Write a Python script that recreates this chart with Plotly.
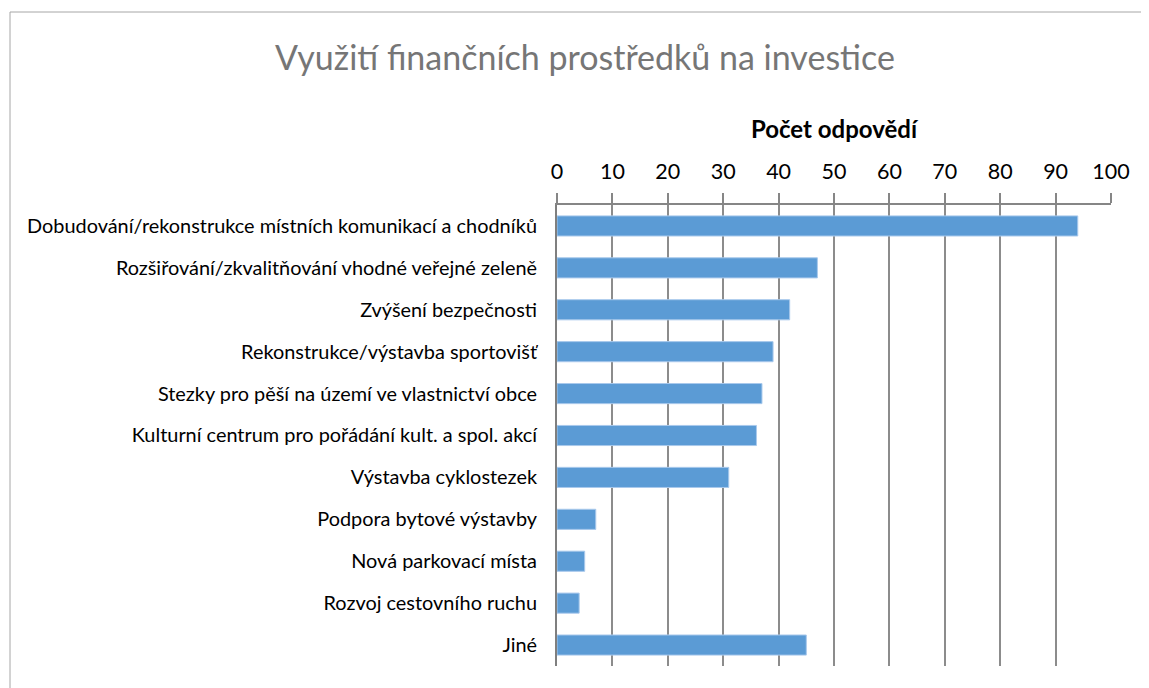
import plotly.graph_objects as go

categories = [
    "Dobudování/rekonstrukce místních komunikací a chodníků",
    "Rozšiřování/zkvalitňování vhodné veřejné zeleně",
    "Zvýšení bezpečnosti",
    "Rekonstrukce/výstavba sportovišť",
    "Stezky pro pěší na území ve vlastnictví obce",
    "Kulturní centrum pro pořádání kult. a spol. akcí",
    "Výstavba cyklostezek",
    "Podpora bytové výstavby",
    "Nová parkovací místa",
    "Rozvoj cestovního ruchu",
    "Jiné",
]
values = [94, 47, 42, 39, 37, 36, 31, 7, 5, 4, 45]
x_ticks = list(range(0, 101, 10))

FONT = "Lato"

fig = go.Figure(
    go.Bar(
        x=values,
        y=categories,
        orientation="h",
        marker=dict(color="#5B9BD5", line=dict(color="#A9C9EC", width=1)),
        width=0.48,
    )
)

# page has an 8px body margin; figure coordinates = page coordinates - 8
W, H = 1141, 680
ml, mr, mt, mb = 549, 38, 197, 22
pw = W - ml - mr
ph = H - mt - mb

def px_to_paper_x(px):
    return (px - ml) / pw

def px_to_paper_y(py):
    return (H - mb - py) / ph

fig.update_layout(
    width=W,
    height=H,
    margin=dict(l=ml, r=mr, t=mt, b=mb, autoexpand=False),
    paper_bgcolor="white",
    plot_bgcolor="white",
    showlegend=False,
    font=dict(family=FONT, color="#000000"),
    title=dict(
        text="Využití finančních prostředků na investice",
        font=dict(family=FONT, size=34, color="#767676"),
        xref="container",
        yref="container",
        x=577 / W,
        y=1 - 50 / H,
        xanchor="center",
        yanchor="middle",
    ),
    xaxis=dict(
        side="top",
        range=[0, 100],
        tickvals=x_ticks,
        ticktext=[str(v) for v in x_ticks],
        tickfont=dict(family=FONT, size=21.5, color="#000000"),
        ticks="outside",
        ticklen=10,
        tickcolor="#868686",
        tickwidth=1.5,
        showline=True,
        linecolor="#868686",
        linewidth=1.5,
        showgrid=True,
        gridcolor="#8C8C8C",
        gridwidth=1.5,
        zeroline=False,
        ticklabelstandoff=6,
        title=dict(
            text="<b>Počet odpovědí</b>",
            font=dict(family=FONT, size=24, color="#000000"),
            standoff=12,
        ),
        fixedrange=True,
    ),
    yaxis=dict(
        categoryorder="array",
        categoryarray=categories,
        autorange="reversed",
        tickfont=dict(family=FONT, size=19.9, color="#000000"),
        ticks="",
        showline=True,
        linecolor="#7F7F7F",
        linewidth=2,
        showgrid=False,
        zeroline=False,
        ticklabelstandoff=14,
        fixedrange=True,
    ),
    shapes=[
        dict(
            type="line",
            xref="paper",
            yref="paper",
            x0=px_to_paper_x(2),
            x1=px_to_paper_x(W),
            y0=px_to_paper_y(4),
            y1=px_to_paper_y(4),
            line=dict(color="#A6A6A6", width=1),
        ),
        dict(
            type="line",
            xref="paper",
            yref="paper",
            x0=px_to_paper_x(2),
            x1=px_to_paper_x(2),
            y0=px_to_paper_y(4),
            y1=px_to_paper_y(H),
            line=dict(color="#A6A6A6", width=1),
        ),
    ],
)

fig.write_html(
    "out.html",
    config={"displayModeBar": False},
    post_script="document.documentElement.style.overflow='hidden';document.body.style.overflow='hidden';",
)
